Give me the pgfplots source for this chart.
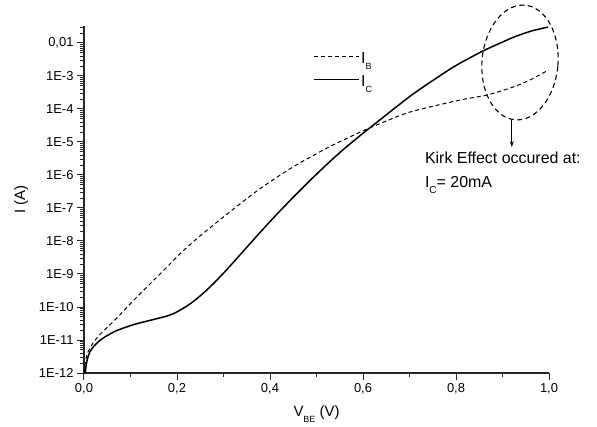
\documentclass[border=0pt]{standalone}
\usepackage{fontspec}
\setmainfont{Liberation Sans}
\usepackage{pgfplots}
\pgfplotsset{compat=1.18}
\usetikzlibrary{arrows.meta,shapes.geometric}
\newcommand{\sub}[2][9]{\raisebox{-6bp}{\fontsize{#1}{#1}\selectfont #2}}

\begin{document}
\begin{tikzpicture}
\begin{axis}[name=ax,
  scale only axis, width=465bp, height=347bp,
  xmin=0, xmax=1, ymode=log, ymin=1e-12, ymax=0.0327,
  clip=false,
  axis x line*=bottom, axis y line*=left,
  axis line style={line width=1.1bp, black!85},
  xtick={0,0.2,0.4,0.6,0.8,1.0},
  xticklabels={{0,0},{0,2},{0,4},{0,6},{0,8},{1,0}},
  minor xtick={0.1,0.3,0.5,0.7,0.9},
  ytick={1e-12,1e-11,1e-10,1e-9,1e-8,1e-7,1e-6,1e-5,1e-4,1e-3,1e-2},
  yticklabels={1E-12,1E-11,1E-10,1E-9,1E-8,1E-7,1E-6,1E-5,1E-4,1E-3,{0,01}},
  minor ytick={2e-12,3e-12,4e-12,5e-12,6e-12,7e-12,8e-12,9e-12,
    2e-11,3e-11,4e-11,5e-11,6e-11,7e-11,8e-11,9e-11,
    2e-10,3e-10,4e-10,5e-10,6e-10,7e-10,8e-10,9e-10,
    2e-9,3e-9,4e-9,5e-9,6e-9,7e-9,8e-9,9e-9,
    2e-8,3e-8,4e-8,5e-8,6e-8,7e-8,8e-8,9e-8,
    2e-7,3e-7,4e-7,5e-7,6e-7,7e-7,8e-7,9e-7,
    2e-6,3e-6,4e-6,5e-6,6e-6,7e-6,8e-6,9e-6,
    2e-5,3e-5,4e-5,5e-5,6e-5,7e-5,8e-5,9e-5,
    2e-4,3e-4,4e-4,5e-4,6e-4,7e-4,8e-4,9e-4,
    2e-3,3e-3,4e-3,5e-3,6e-3,7e-3,8e-3,9e-3,
    2e-2,3e-2},
  tick align=outside, major tick length=7bp, minor tick length=4bp,
  tick style={black!85, line width=1bp},
  tick label style={font=\fontsize{13}{15}\selectfont},
  xlabel={V\sub{BE} (V)}, ylabel={I (A)},
  xlabel style={at={(axis description cs:0.5,-0.124)}, anchor=base, font=\fontsize{15}{17}\selectfont},
  ylabel style={at={(axis description cs:-0.135,0.5)}, anchor=center, font=\fontsize{15}{17}\selectfont},
  legend style={draw=none, fill=none, at={(axis description cs:0.4925,0.928)}, anchor=north west,
    inner sep=0pt, row sep=7bp, font=\fontsize{16}{18}\selectfont, nodes={inner sep=1.5bp}},
  legend cell align=left,
  legend image code/.code={\draw[#1] (0bp,2bp) -- (45bp,2bp);},
]
\addplot[black, line width=1bp, dash pattern=on 4bp off 3bp, smooth, tension=0.4] coordinates {
(0.0006,1.0e-12) (0.002,1.6e-12) (0.0065,3.7e-12) (0.019,8.0e-12) (0.034,1.45e-11)
(0.071,4.7e-11) (0.105,1.5e-10) (0.142,5.0e-10) (0.178,1.6e-9) (0.213,5.0e-9)
(0.249,1.4e-8) (0.308,6.6e-8) (0.378,3.8e-7) (0.449,1.74e-6) (0.523,6.6e-6)
(0.594,2.0e-5) (0.630,3.3e-5) (0.701,8.1e-5) (0.809,1.87e-4) (0.867,2.65e-4)
(0.923,4.64e-4) (0.959,7.56e-4) (0.999,1.52e-3)
};
\addlegendentry{I\sub{B}}
\addplot[black, line width=1.5bp, smooth, tension=0.4] coordinates {
(0.0028,1.0e-12) (0.0043,1.6e-12) (0.0075,2.7e-12) (0.0129,4.4e-12) (0.0215,6.6e-12)
(0.0323,9.2e-12) (0.0452,1.25e-11) (0.071,1.95e-11) (0.1075,2.95e-11) (0.144,4.0e-11)
(0.1785,5.33e-11) (0.200,7.1e-11) (0.230,1.29e-10) (0.258,2.73e-10) (0.286,6.58e-10)
(0.3075,1.38e-9) (0.342,4.81e-9) (0.3785,1.81e-8) (0.415,6.54e-8) (0.4495,2.08e-7)
(0.486,6.81e-7) (0.5226,2.12e-6) (0.557,5.81e-6) (0.594,1.57e-5) (0.630,3.98e-5)
(0.7075,2.83e-4) (0.781,1.42e-3) (0.8086,2.44e-3) (0.858,5.73e-3) (0.9226,1.47e-2)
(0.960,2.26e-2) (0.998,3.05e-2)
};
\addlegendentry{I\sub{C}}
\node[draw, ellipse, dash pattern=on 5bp off 3.5bp, line width=1.1bp, minimum width=76bp,
  minimum height=115bp, inner sep=0pt, rotate=-5] at (axis description cs:0.9376,0.8948) {};
\draw[-{Stealth[length=6bp,width=4bp]}, line width=0.9bp]
  (axis description cs:0.920,0.729) -- (axis description cs:0.920,0.651);
\node[anchor=base west, font=\fontsize{16}{18}\selectfont, inner sep=0pt]
  at (axis description cs:0.733,0.603) {Kirk Effect occured at:};
\node[anchor=base west, font=\fontsize{16}{18}\selectfont, inner sep=0pt]
  at (axis description cs:0.733,0.536) {I\sub[10]{C}= 20mA};
\end{axis}
\pgfresetboundingbox
\path[use as bounding box] ([shift={(-84bp,-54bp)}]ax.south west) rectangle ++(597bp,427bp);
\end{tikzpicture}
\end{document}
